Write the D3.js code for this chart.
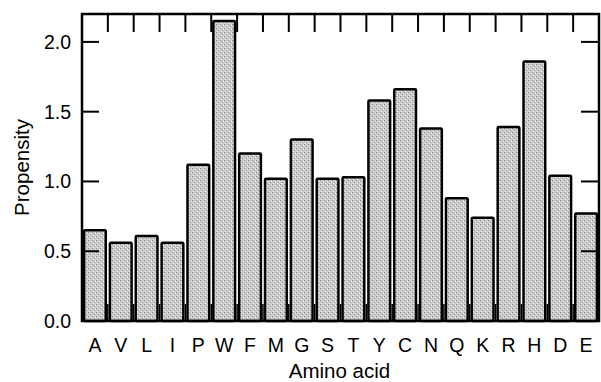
<!DOCTYPE html>
<html lang="en">
<head>
    <meta charset="UTF-8">
    <title>Amino acid propensity</title>
    <script src="https://cdnjs.cloudflare.com/ajax/libs/d3/7.8.5/d3.min.js"></script>
    <style>
        body {
            margin: 0;
            padding: 0;
            background-color: #fff;
        }
        text {
            font-family: "Liberation Sans", Arial, sans-serif;
            fill: #000;
        }
    </style>
</head>
<body>
    <div id="chart"></div>

    <script>
        const aminoAcids = ["A", "V", "L", "I", "P", "W", "F", "M", "G", "S",
                            "T", "Y", "C", "N", "Q", "K", "R", "H", "D", "E"];
        const propensity = [0.65, 0.56, 0.61, 0.56, 1.12, 2.15, 1.20, 1.02, 1.30, 1.02,
                            1.03, 1.58, 1.66, 1.38, 0.88, 0.74, 1.39, 1.86, 1.04, 0.77];
        const yTicks = [0.0, 0.5, 1.0, 1.5, 2.0];

        const width = 601;
        const height = 382;
        const margin = { top: 14, right: 2, bottom: 61, left: 82 };

        const svg = d3.select("#chart")
            .append("svg")
            .attr("width", width)
            .attr("height", height);

        const x = d3.scaleBand()
            .domain(aminoAcids)
            .range([margin.left, width - margin.right])
            .paddingInner(0.16)
            .paddingOuter(0.08);

        const y = d3.scaleLinear()
            .domain([0, 2.2])
            .range([height - margin.bottom, margin.top]);

        const data = aminoAcids.map((a, i) => ({ name: a, value: propensity[i] }));

        // Stipple texture for the bars
        const defs = svg.append("defs");
        const pat = defs.append("pattern")
            .attr("id", "stipple")
            .attr("width", 4)
            .attr("height", 4)
            .attr("patternUnits", "userSpaceOnUse");
        pat.append("rect").attr("width", 4).attr("height", 4).attr("fill", "#cbcbcb");
        pat.append("rect").attr("x", 0).attr("y", 0).attr("width", 1).attr("height", 1).attr("fill", "#858585");
        pat.append("rect").attr("x", 2).attr("y", 2).attr("width", 1).attr("height", 1).attr("fill", "#949494");
        pat.append("rect").attr("x", 3).attr("y", 1).attr("width", 1).attr("height", 1).attr("fill", "#ececec");
        pat.append("rect").attr("x", 1).attr("y", 3).attr("width", 1).attr("height", 1).attr("fill", "#ececec");

        // Bars
        svg.append("g")
            .selectAll("rect")
            .data(data)
            .enter()
            .append("rect")
            .attr("x", d => x(d.name))
            .attr("y", d => y(d.value))
            .attr("width", x.bandwidth())
            .attr("height", d => y(0) - y(d.value))
            .attr("rx", 1)
            .style("fill", "url(#stipple)")
            .style("stroke", "#000")
            .style("stroke-width", 2.5);

        // Tick positions between bars
        const between = aminoAcids.slice(0, -1).map(a => x(a) + x.bandwidth() + (x.step() - x.bandwidth()) / 2);

        const x0 = margin.left, x1 = width - margin.right;
        const y0 = margin.top, y1 = height - margin.bottom;

        // Top ticks
        svg.append("g")
            .selectAll("line")
            .data(between)
            .enter()
            .append("line")
            .attr("x1", d => d).attr("x2", d => d)
            .attr("y1", y0).attr("y2", y0 + 18)
            .style("stroke", "#000")
            .style("stroke-width", 2);

        // Bottom ticks
        svg.append("g")
            .selectAll("line")
            .data(between)
            .enter()
            .append("line")
            .attr("x1", d => d).attr("x2", d => d)
            .attr("y1", y1).attr("y2", y1 - 17)
            .style("stroke", "#000")
            .style("stroke-width", 1.5);

        // Left and right ticks
        const yt = svg.append("g");
        yTicks.forEach(t => {
            yt.append("line")
                .attr("x1", x0).attr("x2", x0 + 17)
                .attr("y1", y(t)).attr("y2", y(t))
                .style("stroke", "#000").style("stroke-width", 2);
            yt.append("line")
                .attr("x1", x1).attr("x2", x1 - 18)
                .attr("y1", y(t)).attr("y2", y(t))
                .style("stroke", "#000").style("stroke-width", 2);
            yt.append("text")
                .attr("x", 71)
                .attr("y", y(t))
                .attr("dy", "0.35em")
                .attr("text-anchor", "end")
                .style("font-size", "19.5px")
                .text(t.toFixed(1));
        });

        // Frame
        svg.append("rect")
            .attr("x", x0).attr("y", y0)
            .attr("width", x1 - x0).attr("height", y1 - y0)
            .style("fill", "none")
            .style("stroke", "#000")
            .style("stroke-width", 2.5);

        // X labels
        svg.append("g")
            .selectAll("text")
            .data(aminoAcids)
            .enter()
            .append("text")
            .attr("x", d => x(d) + x.bandwidth() / 2)
            .attr("y", 352)
            .attr("text-anchor", "middle")
            .style("font-size", "19.5px")
            .text(d => d);

        // Axis titles
        svg.append("text")
            .attr("x", (x0 + x1) / 2 - 1)
            .attr("y", 378)
            .attr("text-anchor", "middle")
            .style("font-size", "20.5px")
            .text("Amino acid");

        svg.append("text")
            .attr("transform", `translate(29,${(y0 + y1) / 2}) rotate(-90)`)
            .attr("text-anchor", "middle")
            .style("font-size", "20.5px")
            .text("Propensity");
    </script>
</body>
</html>
